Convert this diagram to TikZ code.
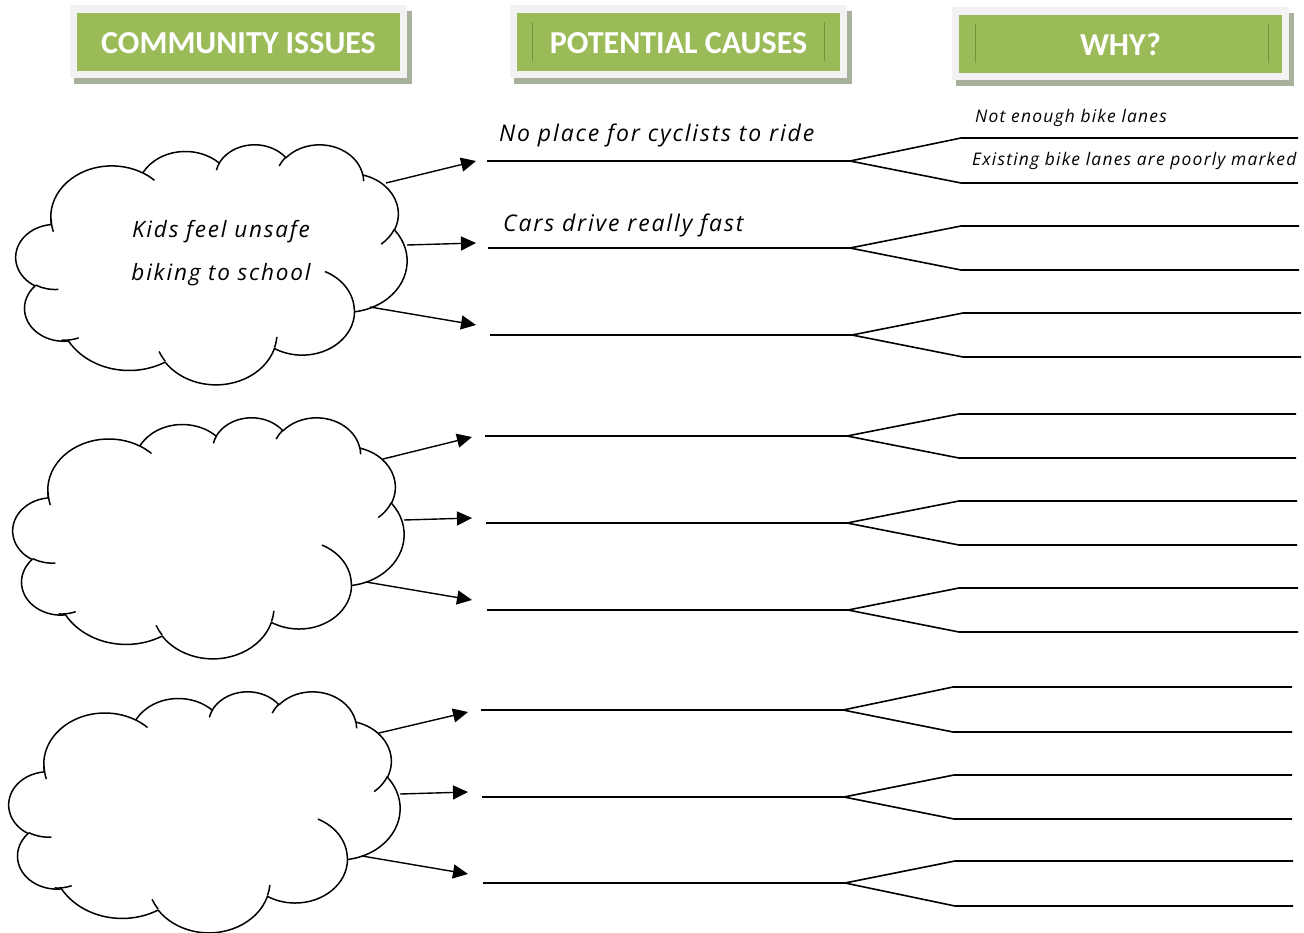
\documentclass[tikz,border=0pt]{standalone}
\usepackage{fontspec}
\setmainfont{Carlito}
\newfontfamily\headfont{Carlito}
\newfontfamily\handfont{Open Sans}[LetterSpace=8]
\newfontfamily\handsmall{Open Sans}[LetterSpace=7]
\usetikzlibrary{arrows.meta}
\definecolor{hdrgreen}{HTML}{9BBB59}
\definecolor{hdrframe}{HTML}{F2F2F2}
\definecolor{hdrshadow}{HTML}{A8B19B}
\definecolor{hdrrule}{HTML}{76923C}
\tikzset{
  cloudline/.style={line width=1.5pt, line join=round},
  causeline/.style={line width=1.6pt},
  issuearrow/.style={line width=1.4pt, -{Triangle[length=15pt,width=14pt]}},
  hdrtext/.style={font=\headfont\bfseries\fontsize{32}{36}\selectfont, text=white, inner sep=0pt},
  handtext/.style={font=\handfont\itshape\fontsize{23}{26}\selectfont, inner sep=0pt, anchor=base west},
  issuetext/.style={font=\handfont\itshape\fontsize{22.5}{26}\selectfont, inner sep=0pt, anchor=base},
  whytext/.style={font=\handsmall\itshape\fontsize{17.4}{20}\selectfont, inner sep=0pt, anchor=base west},
}
% ---- cloud (Office cloud geometry, 43200 units = 43.2 here) ----
\newcommand\cldinit[4]{\gdef\cldX{#1}\gdef\cldY{#2}\gdef\cldW{#3}\gdef\cldH{#4}\gdef\cldpath{}}
\newcommand\cldM[2]{%
  \pgfmathsetmacro\cldtx{\cldX+#1/43.2*\cldW}%
  \pgfmathsetmacro\cldty{-1*(\cldY+#2/43.2*\cldH)}%
  \xdef\cldpath{\cldpath (\cldtx pt,\cldty pt)}}
\newcommand\cldA[4]{%
  \pgfmathsetmacro\cldta{atan2(#1*sin(#3),#2*cos(#3))}%
  \pgfmathsetmacro\cldtb{atan2(#1*sin(#3+#4),#2*cos(#3+#4))}%
  \pgfmathsetmacro\cldtd{\cldtb-\cldta}%
  \pgfmathsetmacro\cldtd{ifthenelse(\cldtd<0,\cldtd+360,\cldtd)}%
  \pgfmathsetmacro\cldrx{#1/43.2*\cldW}%
  \pgfmathsetmacro\cldry{#2/43.2*\cldH}%
  \pgfmathsetmacro\cldsa{-1*(\cldta)}%
  \pgfmathsetmacro\cldsd{-1*(\cldtd)}%
  \xdef\cldpath{\cldpath arc[start angle=\cldsa,delta angle=\cldsd,x radius=\cldrx pt,y radius=\cldry pt]}}
\newcommand\drawcloud[4]{%
  \cldinit{#1}{#2}{#3}{#4}%
  \cldM{3.900}{14.370}%
  \cldA{6.753}{9.190}{-190.4875}{123.7805}%
  \cldA{5.333}{7.267}{-144.1024}{89.9452}%
  \cldA{4.365}{5.945}{-145.8079}{99.7230}%
  \cldA{4.857}{6.595}{-130.9861}{117.2417}%
  \cldA{5.333}{7.273}{-78.7089}{109.0269}%
  \cldA{6.775}{9.220}{-46.2673}{130.2690}%
  \cldA{5.785}{7.867}{0.6250}{114.0333}%
  \cldA{6.752}{9.215}{22.4516}{115.1726}%
  \cldA{7.720}{10.543}{66.2426}{75.7110}%
  \cldA{4.360}{5.918}{-274.9421}{146.7356}%
  \cldA{4.345}{5.945}{-246.8285}{152.5189}%
  \edef\cldtmp{\noexpand\draw[cloudline,fill=white] \cldpath -- cycle;}\cldtmp
  \gdef\cldpath{}%
  \cldM{4.693}{26.177}\cldA{4.345}{5.945}{86.7420}{26.4295}%
  \cldM{6.928}{34.899}\cldA{4.360}{5.918}{73.6105}{19.1487}%
  \cldM{16.478}{39.090}\cldA{6.752}{9.215}{137.6242}{14.0811}%
  \cldM{28.827}{34.751}\cldA{6.752}{9.215}{6.4533}{15.9984}%
  \cldM{34.129}{22.954}\cldA{5.785}{7.867}{-70.2924}{70.9174}%
  \cldM{41.798}{15.354}\cldA{5.333}{7.273}{30.3180}{27.7515}%
  \cldM{38.324}{5.426}\cldA{4.857}{6.595}{-13.7443}{14.8589}%
  \cldM{29.078}{3.952}\cldA{4.857}{6.595}{-149.1815}{18.1954}%
  \cldM{22.141}{4.720}\cldA{4.365}{5.945}{-163.4943}{17.6864}%
  \cldM{14.000}{5.192}\cldA{6.753}{9.190}{-66.7070}{12.3194}%
  \cldM{4.127}{15.789}\cldA{6.753}{9.190}{159.1226}{19.4843}%
  \edef\cldtmp{\noexpand\draw[cloudline] \cldpath;}\cldtmp
}
% ---- header box ----
\newcommand\hdrbox[6]{% name, x1, y1, x2, y2, text
  \fill[hdrshadow] (#2+4,-#3-6) rectangle (#4+5,-#5-6);
  \fill[hdrframe] (#2,-#3) rectangle (#4,-#5);
  \fill[hdrgreen] (#2+7,-#3-8) rectangle (#4-7,-#5+7);
  \node[hdrtext] (#1) at ({(#2+#4)/2},{-(#3+#5)/2-1.5}) {#6};
}
\begin{document}
\begin{tikzpicture}[x=1pt,y=1pt]
\useasboundingbox (0,0) rectangle (1304,-932);
\fill[white] (0,0) rectangle (1304,-932);
% headers
\hdrbox{h1}{70}{5}{407}{78}{COMMUNITY ISSUES}
\hdrbox{h2}{510}{5}{847}{78}{POTENTIAL CAUSES}
\draw[hdrrule, line width=0.8pt] (532,-22) -- (532,-61) (824,-22) -- (824,-61);
\hdrbox{h3}{952}{7}{1289}{80}{WHY?}
\draw[hdrrule, line width=0.8pt] (975,-24) -- (975,-63) (1268,-24) -- (1268,-63);
% clouds
\drawcloud{16}{144}{391}{240}
\drawcloud{13}{417}{391}{241}
\drawcloud{9}{691}{391}{241}
% arrows and cause lines
\foreach \g/\ax/\ay/\bx/\by/\sx/\sy/\vx/\bxx/\uy/\ly/\ex in {
  11/386/183/476/161/487/161/850/961/138/183/1298,
  12/407/245/476/243/488/248/850/961/226/270/1299,
  13/370/307/476/325/490/335/852/963/313/357/1301,
  21/383/459/472/437/485/436/847/959/414/458/1296,
  22/404/520/472/518/486/523/847/959/501/545/1297,
  23/366/582/472/600/487/610/848/959/588/632/1298,
  31/379/733/468/712/481/710/843/953/687/732/1292,
  32/400/794/468/792/482/797/844/954/775/819/1292,
  33/362/856/468/874/483/883/845/955/861/906/1293}{
  \coordinate (a\g) at (\ax,-\ay);
  \coordinate (t\g) at (\bx,-\by);
  \coordinate (s\g) at (\sx,-\sy);
  \coordinate (v\g) at (\vx,-\sy);
  \coordinate (u\g) at (\bxx,-\uy);
  \coordinate (l\g) at (\bxx,-\ly);
  \coordinate (ue\g) at (\ex,-\uy);
  \coordinate (le\g) at (\ex,-\ly);
  \draw[issuearrow] (a\g) -- (t\g);
  \draw[causeline] (s\g) -- (v\g) -- (u\g) -- (ue\g);
  \draw[causeline] (v\g) -- (l\g) -- (le\g);
}
% texts
\node[issuetext] (issue1a) at (221,-237) {Kids feel unsafe};
\node[issuetext] (issue1b) at (221,-280) {biking to school};
\node[handtext] (cause1) at (499,-141) {No place for cyclists to ride};
\node[handtext] (cause2) at (503,-231) {Cars drive really fast};
\node[whytext] (why1) at (975,-122) {Not enough bike lanes};
\node[whytext] (why2) at (972,-165) {Existing bike lanes are poorly marked};
\end{tikzpicture}
\end{document}
